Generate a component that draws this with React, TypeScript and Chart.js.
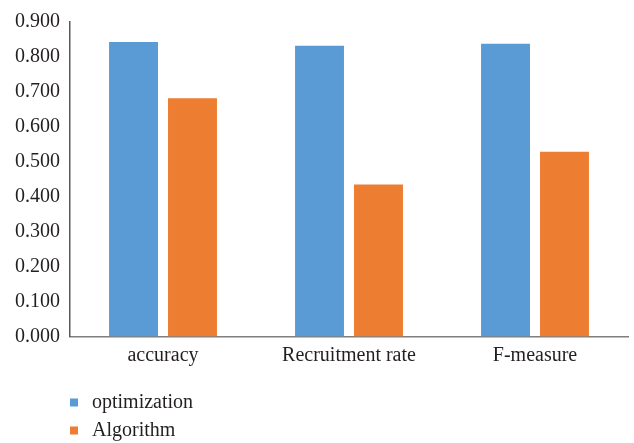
import React, { useEffect, useRef } from "react";
import { Chart, registerables } from "chart.js";

Chart.register(...registerables);

const categories = ["accuracy", "Recruitment rate", "F-measure"];
const optimizationValues = [0.843, 0.832, 0.838];
const algorithmValues = [0.682, 0.435, 0.529];
const seriesNames = ["optimization", "Algorithm"];
const seriesColors = ["#5b9bd5", "#ed7d31"];

const FONT = "'Liberation Serif', 'DejaVu Serif', serif";
const TEXT = "#231f20";

const verticalLegend = {
  id: "verticalLegend",
  afterDraw(chart: any) {
    const ctx = chart.ctx;
    const x0 = chart.chartArea.left;
    const y0 = chart.chartArea.bottom + 66;
    ctx.save();
    ctx.font = `20px ${FONT}`;
    ctx.textBaseline = "middle";
    ctx.textAlign = "left";
    chart.data.datasets.forEach((ds: any, i: number) => {
      const cy = y0 + i * 28;
      ctx.fillStyle = ds.backgroundColor;
      ctx.fillRect(x0, cy - 4, 8, 8);
      ctx.fillStyle = TEXT;
      ctx.fillText(ds.label, x0 + 22, cy);
    });
    ctx.restore();
  },
};

export default function App() {
  const ref = useRef<HTMLCanvasElement>(null);
  useEffect(() => {
    if (!ref.current) return;
    const chart = new Chart(ref.current, {
      type: "bar",
      data: {
        labels: categories,
        datasets: [
          { label: seriesNames[0], data: optimizationValues, backgroundColor: seriesColors[0] },
          { label: seriesNames[1], data: algorithmValues, backgroundColor: seriesColors[1] },
        ],
      },
      options: {
        animation: false,
        responsive: false,
        layout: { padding: { left: 0, right: 6, top: 19, bottom: 76.5 } },
        plugins: { legend: { display: false }, tooltip: { enabled: false } },
        datasets: { bar: { barPercentage: 0.83, categoryPercentage: 0.634 } },
        scales: {
          x: {
            grid: { display: false, drawTicks: false },
            border: { display: true, color: "#7f7f7f", width: 1.5 },
            ticks: { color: TEXT, font: { family: FONT, size: 20 }, padding: 7, maxRotation: 0 },
            afterFit(scale: any) { scale.height = 30; },
          },
          y: {
            min: 0,
            max: 0.9,
            grid: { display: false, drawTicks: false },
            border: { display: true, color: "#595959", width: 1.5 },
            ticks: {
              stepSize: 0.1,
              color: TEXT,
              font: { family: FONT, size: 20 },
              padding: 10,
              callback: (v: any) => Number(v).toFixed(3),
            },
            afterFit(scale: any) { scale.width = 70; },
          },
        },
      },
      plugins: [verticalLegend],
    });
    return () => chart.destroy();
  }, []);
  return (
    <div style={{ position: "fixed", left: 0, top: 0, width: 634, height: 443, background: "#fff" }}>
      <canvas ref={ref} width={634} height={443} />
    </div>
  );
}
